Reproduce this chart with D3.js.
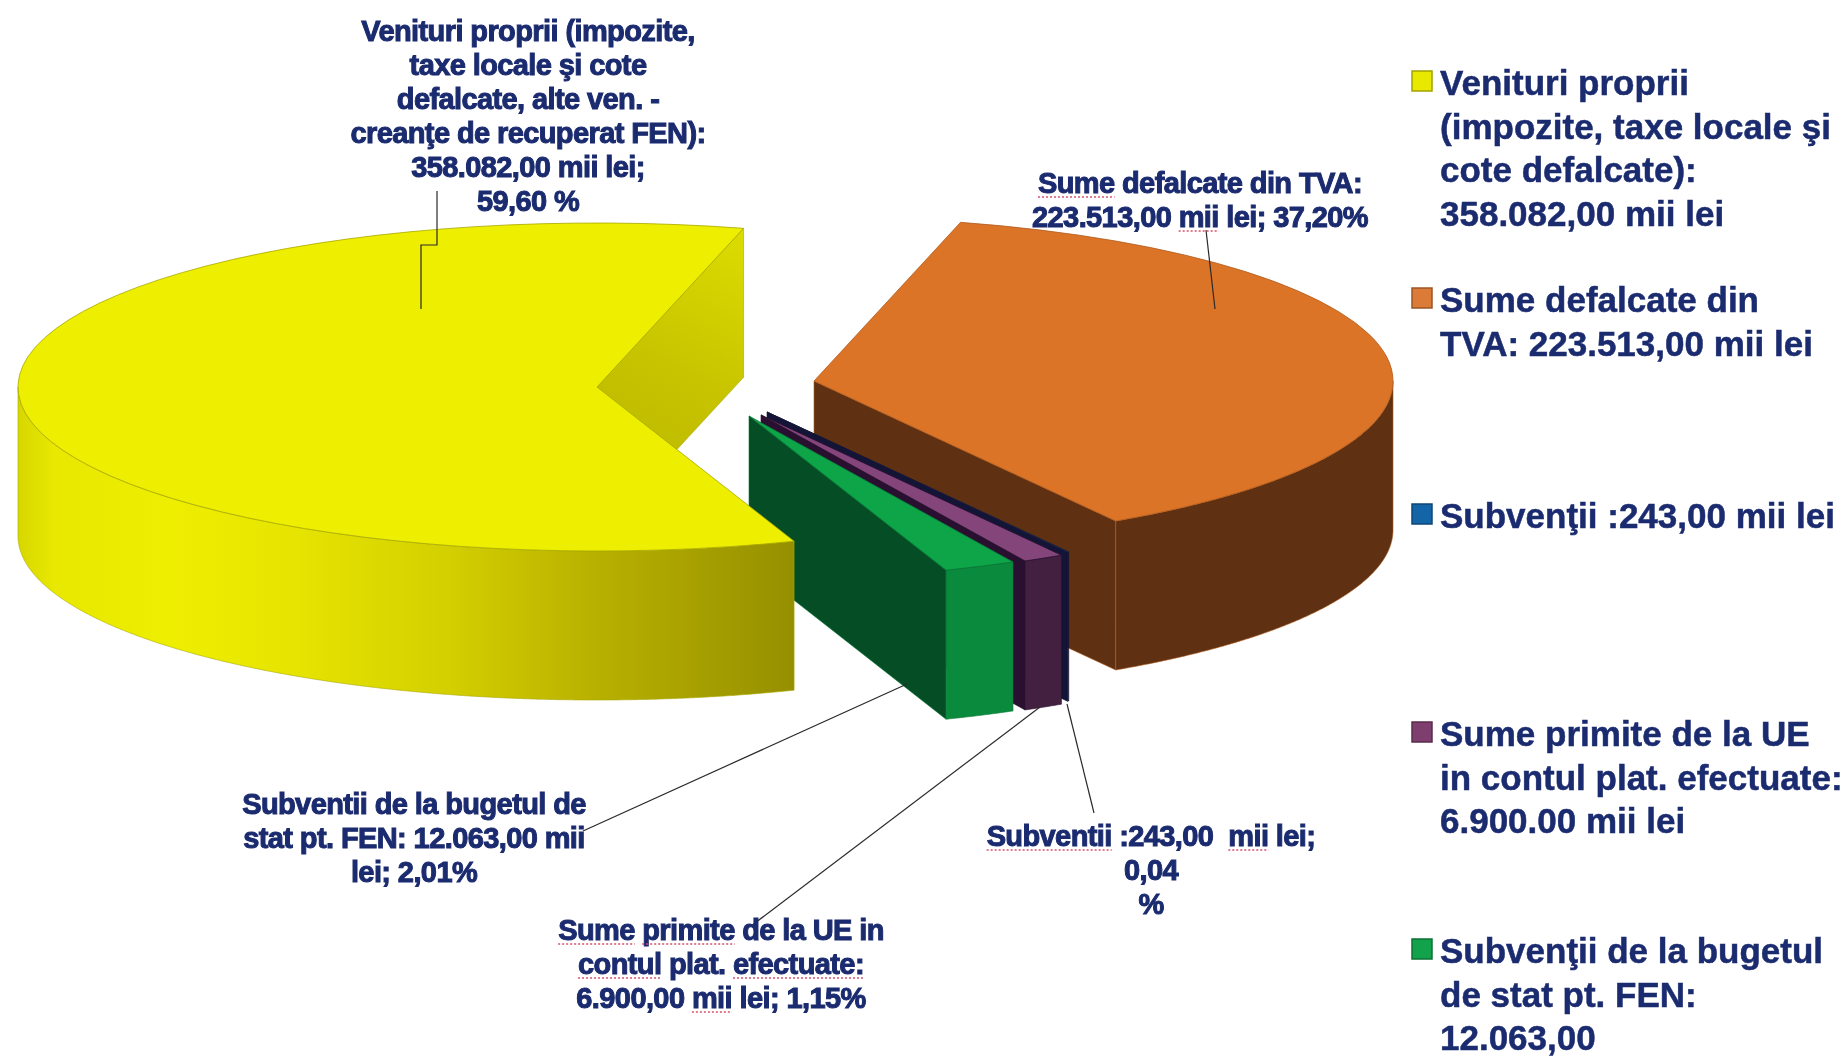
<!DOCTYPE html>
<html>
<head>
<meta charset="utf-8">
<script src="https://cdn.jsdelivr.net/npm/d3@7"></script>
<style>
  html, body { margin: 0; padding: 0; background: #fff; overflow: hidden; }
  svg { display: block; filter: blur(0.7px); }
  text { font-family: "Liberation Sans", Arial, sans-serif; font-weight: bold; fill: #1b2b6f; }
  .callout { font-size: 29px; letter-spacing: -0.6px; text-anchor: middle; stroke: #1b2b6f; stroke-width: 1px; }
  .legend-text { font-size: 35px; stroke: #1b2b6f; stroke-width: 0.5px; }
</style>
</head>
<body>
<div id="chart"></div>
<script>
// values (mii lei), in slice order
var categories = ["Venituri proprii", "Sume defalcate din TVA", "Subventii", "Sume primite de la UE", "Subventii de la bugetul de stat"];
var values = [358082, 223513, 243, 6900, 12063];
var topColors = ["#eeee00", "#dc7428", "#1464a8", "#84467a", "#0da548"];
var rimColors = ["url(#yellowRim)", "#5f3011", "#141436", "#43203f", "#0a8a3c"];
var wallColors = ["url(#yellowWall)", "#5f3011", "#141436", "#2a1030", "#054d25"];
var edgeColors = ["#a8a800", "#b05a1c", "#141436", "#2a1030", "#0a7a38"];

// where each exploded slice has its tip
var tipX = [597, 814, 767, 761, 749];
var tipY = [387, 381, 412, 415, 416];

var legendLines = [
  ["Venituri proprii", "(impozite, taxe locale şi", "cote defalcate):", "358.082,00 mii lei"],
  ["Sume defalcate din", "TVA: 223.513,00 mii lei"],
  ["Subvenţii :243,00 mii lei"],
  ["Sume primite de la UE", "in contul plat. efectuate:", "6.900.00 mii lei"],
  ["Subvenţii de la bugetul", "de stat pt. FEN:", "12.063,00"]
];
var legendColors = ["#e8e800", "#dc7a38", "#1464a8", "#7f3f6e", "#12a24c"];
var legendY = [95, 312, 528, 746, 963];

// words in [[...]] carry the spell check underline
var calloutLines = [
  ["Venituri proprii (impozite,", "taxe locale şi cote", "defalcate, alte ven. -", "creanţe de recuperat FEN):", "358.082,00 mii lei;", "59,60 %"],
  ["[[Sume]] defalcate din TVA:", "223.513,00 [[mii]] lei; 37,20%"],
  ["[[Subventii]] :243,00  [[mii]] lei;", "0,04", "%"],
  ["[[Sume]] [[primite]] de la UE in", "[[contul]] plat. [[efectuate:]]", "6.900,00 [[mii]] lei; 1,15%"],
  ["Subventii de la bugetul de", "stat pt. FEN: 12.063,00 mii", "lei; 2,01%"]
];
var calloutX = [528, 1200, 1151, 721, 414];
var calloutY = [41, 193, 846, 940, 814];

var leaders = [
  [[437, 191], [437, 245], [421, 245], [421, 309]],
  [[1206, 230], [1215, 309]],
  [[1067, 704], [1094, 813]],
  [[751, 926], [1040, 707]],
  [[583, 831], [907, 684]]
];

var svgWidth = 1848;
var svgHeight = 1056;
var rx = 579;
var ry = 164;
var depth = 149;
var startAngle = 160.1 * Math.PI / 180;

var svg = d3.select("#chart")
  .append("svg")
  .attr("width", svgWidth)
  .attr("height", svgHeight);

var defs = svg.append("defs");

var yellowRim = defs.append("linearGradient")
  .attr("id", "yellowRim")
  .attr("gradientUnits", "userSpaceOnUse")
  .attr("x1", 16).attr("x2", 792).attr("y1", 0).attr("y2", 0);
[[0, "#d6d600"], [0.05, "#e8e800"], [0.2, "#eeee00"], [0.36, "#e6e400"], [0.55, "#d4d000"], [0.75, "#b8b000"], [1, "#969000"]]
  .forEach(function(s) {
    yellowRim.append("stop").attr("offset", s[0]).attr("stop-color", s[1]);
  });

var yellowWall = defs.append("linearGradient")
  .attr("id", "yellowWall")
  .attr("gradientUnits", "userSpaceOnUse")
  .attr("x1", 741).attr("y1", 230).attr("x2", 600).attr("y2", 500);
[[0, "#dcdc00"], [0.5, "#c8c400"], [1, "#b9b500"]].forEach(function(s) {
  yellowWall.append("stop").attr("offset", s[0]).attr("stop-color", s[1]);
});

var pie = d3.pie()
  .sort(null)
  .startAngle(startAngle)
  .endAngle(startAngle + 2 * Math.PI);

var slices = pie(values);

var arc = d3.arc().innerRadius(0).outerRadius(rx);

function project(i, a, drop) {
  return [tipX[i] + rx * Math.sin(a), tipY[i] - ry * Math.cos(a) + (drop || 0)];
}

// draw back to front, the yellow one goes last since it covers the green
var drawOrder = [1, 2, 3, 4, 0];

drawOrder.forEach(function(i) {
  var d = slices[i];
  var g = svg.append("g").attr("class", "slice");
  var a1 = d.endAngle;

  // cut face at the end angle
  var wall = [
    [tipX[i], tipY[i]],
    project(i, a1),
    project(i, a1, depth),
    [tipX[i], tipY[i] + depth]
  ];
  g.append("path")
    .attr("d", d3.line()(wall) + "Z")
    .attr("fill", wallColors[i])
    .attr("stroke", edgeColors[i])
    .attr("stroke-width", 0.6);

  // outer rim, only the half that faces the viewer (angles run past 2pi after the yellow slice)
  var turn = d.startAngle >= 2 * Math.PI ? 2 * Math.PI : 0;
  var from = Math.max(d.startAngle, turn + Math.PI / 2);
  var to = Math.min(a1, turn + 1.5 * Math.PI);
  if (from < to) {
    var angles = d3.range(from, to, 0.005).concat([to]);
    var upper = angles.map(function(a) { return project(i, a); });
    var lower = angles.slice().reverse().map(function(a) { return project(i, a, depth); });
    g.append("path")
      .attr("d", d3.line()(upper.concat(lower)) + "Z")
      .attr("fill", rimColors[i])
      .attr("stroke", edgeColors[i])
      .attr("stroke-width", 0.6);
  }

  // top surface, a flat arc squashed into the ellipse
  g.append("path")
    .attr("d", arc(d))
    .attr("transform", `translate(${tipX[i]}, ${tipY[i]}) scale(1, ${ry / rx})`)
    .attr("fill", topColors[i])
    .attr("stroke", edgeColors[i])
    .attr("stroke-width", 0.8)
    .attr("vector-effect", "non-scaling-stroke");
});

// leader lines
svg.selectAll(".leader").data(leaders).enter()
  .append("path")
  .attr("class", "leader")
  .attr("d", d => d3.line()(d))
  .attr("fill", "none")
  .attr("stroke", "#2a2a2a")
  .attr("stroke-width", 1.2);

// callouts
calloutLines.forEach(function(lines, i) {
  lines.forEach(function(line, j) {
    var t = svg.append("text")
      .attr("class", "callout")
      .attr("x", calloutX[i])
      .attr("y", calloutY[i] + j * 34)
      .attr("xml:space", "preserve");
    var marked = [];
    line.split(/(\[\[.*?\]\])/).filter(s => s.length).forEach(function(part) {
      var spell = part.indexOf("[[") === 0;
      var ts = t.append("tspan").text(spell ? part.slice(2, -2) : part);
      if (spell) marked.push(ts.node());
    });
    // red spell check marks under the flagged words
    marked.forEach(function(node) {
      var n = node.getNumberOfChars();
      var a = node.getStartPositionOfChar(0);
      var b = node.getEndPositionOfChar(n - 1);
      svg.append("line")
        .attr("x1", a.x)
        .attr("x2", b.x)
        .attr("y1", a.y + 4)
        .attr("y2", a.y + 4)
        .attr("stroke", "#d8506a")
        .attr("stroke-width", 1.4)
        .attr("stroke-dasharray", "2,2");
    });
  });
});

// legend
legendLines.forEach(function(lines, i) {
  svg.append("rect")
    .attr("x", 1412)
    .attr("y", legendY[i] - 24)
    .attr("width", 20)
    .attr("height", 20)
    .attr("fill", legendColors[i])
    .attr("stroke", d3.color(legendColors[i]).darker(1))
    .attr("stroke-width", 1.5);
  lines.forEach(function(line, j) {
    svg.append("text")
      .attr("class", "legend-text")
      .attr("x", 1440)
      .attr("y", legendY[i] + j * 43.5)
      .text(line);
  });
});
</script>
</body>
</html>
